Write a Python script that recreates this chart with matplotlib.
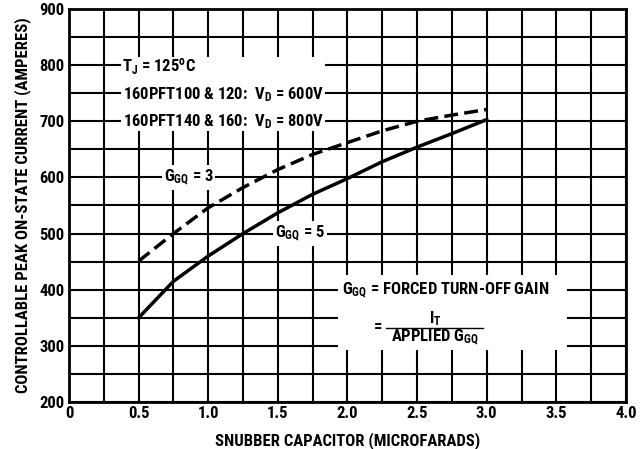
import numpy as np
import matplotlib
matplotlib.use("Agg")
import matplotlib.pyplot as plt
from matplotlib.patches import Rectangle
from matplotlib import font_manager

# capacitor values (microfarads) and controllable current (amperes)
cap = [0.5, 0.75, 1.0, 1.25, 1.5, 1.75, 2.0, 2.25, 2.5, 2.75, 3.0]
ggq3 = [451, 500, 546, 582, 614, 641, 662, 683, 700, 711, 721]
ggq5 = [350, 415, 460, 500, 537, 570, 598, 628, 654, 678, 703]

xticks = [0, 0.5, 1.0, 1.5, 2.0, 2.5, 3.0, 3.5, 4.0]
xtick_labels = ["0", "0.5", "1.0", "1.5", "2.0", "2.5", "3.0", "3.5", "4.0"]
yticks = [200, 300, 400, 500, 600, 700, 800, 900]

# pick a narrow sans like the datasheet's condensed type
have = set(f.name for f in font_manager.fontManager.ttflist)
narrow = 'DejaVu Sans'
for name in ['Roboto Condensed', 'Archivo Narrow', 'PT Sans Narrow', 'Liberation Sans Narrow',
             'Fira Sans Condensed', 'IBM Plex Sans Condensed', 'Barlow Semi Condensed']:
    if name in have:
        narrow = name
        break

plt.rcParams['font.family'] = [narrow, 'DejaVu Sans']
plt.rcParams['font.weight'] = 'bold'
plt.rcParams['mathtext.fontset'] = 'custom'
plt.rcParams['mathtext.rm'] = narrow + ':bold'
plt.rcParams['mathtext.it'] = narrow + ':bold'
plt.rcParams['mathtext.bf'] = narrow + ':bold'
plt.rcParams['mathtext.default'] = 'rm'

fig = plt.figure(figsize=(6.42, 4.49), dpi=100)
ax = fig.add_axes([0.1075, 0.1047, 0.8675, 0.8753])

ax.set_xlim(0, 4)
ax.set_ylim(200, 900)
ax.set_xticks(xticks)
ax.set_xticklabels(xtick_labels, fontsize=12)
ax.set_yticks(yticks)
ax.set_yticklabels([str(v) for v in yticks], fontsize=12)
ax.set_xticks(np.arange(0, 4.01, 0.25), minor=True)
ax.set_yticks(np.arange(200, 901, 50), minor=True)
ax.tick_params(which='both', length=0, pad=3)
ax.grid(which='both', color='black', linewidth=1.5, zorder=1)
ax.set_axisbelow(True)
for s in ax.spines.values():
    s.set_linewidth(2.0)

# white areas behind the note text (grid hidden there)
ax.add_patch(Rectangle((0.37, 682), 1.47, 133, facecolor='white', edgecolor='none', zorder=1.5))
ax.add_patch(Rectangle((1.93, 293), 1.65, 133, facecolor='white', edgecolor='none', zorder=1.5))

ax.plot(cap, ggq3, color='black', linewidth=2.5, linestyle=(0, (4, 1.8)), zorder=3)
ax.plot(cap, ggq5, color='black', linewidth=2.5, zorder=3)

box = dict(facecolor='white', edgecolor='none', pad=1.5)
fs = 12
ax.text(0.38, 797, r'T$_J$ = 125$^o$C', fontsize=fs, va='center', ha='left', zorder=4)
ax.text(0.39, 748, r'160PFT100 & 120:  V$_D$ = 600V', fontsize=fs, va='center', ha='left', zorder=4)
ax.text(0.39, 699, r'160PFT140 & 160:  V$_D$ = 800V', fontsize=fs, va='center', ha='left', zorder=4)
ax.text(0.68, 600, r'G$_{GQ}$ = 3', fontsize=fs, va='center', ha='left', bbox=box, zorder=4)
ax.text(1.48, 500, r'G$_{GQ}$ = 5', fontsize=fs, va='center', ha='left', bbox=box, zorder=4)
ax.text(1.96, 398, r'G$_{GQ}$ = FORCED TURN-OFF GAIN', fontsize=fs, va='center', ha='left', zorder=4)
ax.text(2.63, 348, r'I$_T$', fontsize=fs, va='center', ha='center', zorder=4)
ax.text(2.22, 332, '=', fontsize=fs, va='center', ha='center', zorder=4)
ax.text(2.63, 315, r'APPLIED G$_{GQ}$', fontsize=fs, va='center', ha='center', zorder=4)
ax.plot([2.28, 2.97], [332, 332], color='black', linewidth=1.0, zorder=4)

ax.set_xlabel('SNUBBER CAPACITOR (MICROFARADS)', fontsize=12, fontweight='bold', labelpad=8)
ax.set_ylabel('CONTROLLABLE PEAK ON-STATE CURRENT (AMPERES)', fontsize=12, fontweight='bold', labelpad=6)

fig.savefig('out.png', dpi=100)
